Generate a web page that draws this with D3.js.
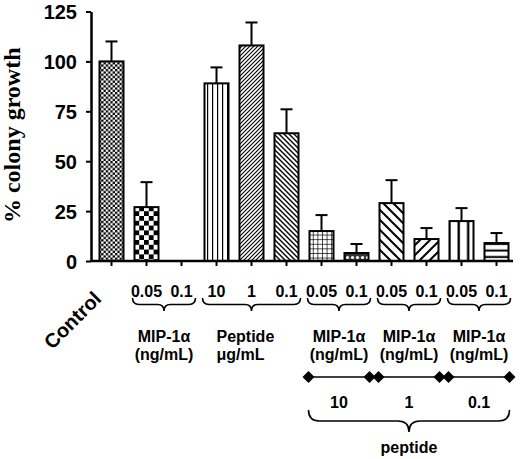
<!DOCTYPE html>
<html><head><meta charset="utf-8">
<script src="https://cdn.jsdelivr.net/npm/d3@7"></script>
<style>
html,body{margin:0;padding:0;background:#fff;}
text{font-family:"Liberation Sans",Arial,sans-serif;font-weight:bold;fill:#000;}
</style></head>
<body><div id="chart"></div>
<script>
// ---- data ----
const categories = ["Control","MIP 0.05","MIP 0.1","Pep 10","Pep 1","Pep 0.1",
  "Pep10+MIP 0.05","Pep10+MIP 0.1","Pep1+MIP 0.05","Pep1+MIP 0.1","Pep0.1+MIP 0.05","Pep0.1+MIP 0.1"];
const means = [100, 27, 0, 89, 108, 64, 15, 4, 29, 11, 20, 9];
const errors = [10, 12.5, 0, 8, 11.5, 12, 8, 4.5, 11.5, 5.5, 6.5, 5];
const tickLabels = ["", "0.05", "0.1", "10", "1", "0.1", "0.05", "0.1", "0.05", "0.1", "0.05", "0.1"];
const yTicks = [0, 25, 50, 75, 100, 125];
const groupRanges = [[1,2],[3,5],[6,7],[8,9],[10,11]];
const groupLabels = [["MIP-1α","(ng/mL)"],["Peptide","μg/mL"],["MIP-1α","(ng/mL)"],["MIP-1α","(ng/mL)"],["MIP-1α","(ng/mL)"]];
const peptideGroups = [2,3,4];
const peptideDoses = ["10","1","0.1"];
const yTitle = "% colony growth";

// ---- styles ----
const fills = ["pFineCheck","pCheck",null,"pVert","pDiagFine","pBackFine","pGrid","pDots","pBackWide","pDiagWide","pVertWide","pHoriz"];

const W = 520, H = 459;
const svg = d3.select("#chart").append("svg").attr("width", W).attr("height", H);
const defs = svg.append("defs");
function pat(id, w, h){ return defs.append("pattern").attr("id", id).attr("patternUnits","userSpaceOnUse").attr("width", w).attr("height", h); }
let p;
p = pat("pFineCheck", 4.6, 4.6); p.append("rect").attr("width",4.6).attr("height",4.6).attr("fill","#fff");
p.append("rect").attr("width",2.3).attr("height",2.3).attr("fill","#000");
p.append("rect").attr("x",2.3).attr("y",2.3).attr("width",2.3).attr("height",2.3).attr("fill","#000");
p = pat("pCheck", 9.6, 9.6); p.append("rect").attr("width",9.6).attr("height",9.6).attr("fill","#fff");
p.append("rect").attr("width",4.8).attr("height",4.8).attr("fill","#000");
p.append("rect").attr("x",4.8).attr("y",4.8).attr("width",4.8).attr("height",4.8).attr("fill","#000");
p = pat("pVert", 5, 10); p.append("rect").attr("width",5).attr("height",10).attr("fill","#fff");
p.append("rect").attr("x",2).attr("width",1.2).attr("height",10).attr("fill","#000");
p = pat("pDiagFine", 4, 4); p.append("rect").attr("width",4).attr("height",4).attr("fill","#fff");
p.append("path").attr("d","M-1,1 L1,-1 M0,4 L4,0 M3,5 L5,3").attr("stroke","#000").attr("stroke-width",1.1);
p = pat("pBackFine", 5, 5); p.append("rect").attr("width",5).attr("height",5).attr("fill","#fff");
p.append("path").attr("d","M-1,4 L1,6 M0,0 L5,5 M4,-1 L6,1").attr("stroke","#000").attr("stroke-width",1.4);
p = pat("pGrid", 4.6, 4.6); p.append("rect").attr("width",4.6).attr("height",4.6).attr("fill","#fff");
p.append("path").attr("d","M0,0 H4.6 M0,0 V4.6").attr("stroke","#000").attr("stroke-width",1.4);
p = pat("pDots", 5, 5); p.append("rect").attr("width",5).attr("height",5).attr("fill","#333");
p.append("circle").attr("cx",2.5).attr("cy",2.5).attr("r",1.6).attr("fill","#fff");
p = pat("pBackWide", 10, 10); p.append("rect").attr("width",10).attr("height",10).attr("fill","#fff");
p.append("path").attr("d","M-2,8 L2,12 M0,0 L10,10 M8,-2 L12,2").attr("stroke","#000").attr("stroke-width",2);
p = pat("pDiagWide", 10, 10); p.append("rect").attr("width",10).attr("height",10).attr("fill","#fff");
p.append("path").attr("d","M-2,2 L2,-2 M0,10 L10,0 M8,12 L12,8").attr("stroke","#000").attr("stroke-width",2);
p = pat("pVertWide", 9.5, 10); p.append("rect").attr("width",9.5).attr("height",10).attr("fill","#fff");
p.append("rect").attr("x",1.5).attr("width",2.4).attr("height",10).attr("fill","#000");
p = pat("pHoriz", 10, 6.5); p.append("rect").attr("width",10).attr("height",6.5).attr("fill","#fff");
p.append("rect").attr("y",2.5).attr("width",10).attr("height",2).attr("fill","#000");

// ---- scales ----
const y = d3.scaleLinear().domain([0,125]).range([261, 11.5]);
const x = d3.scaleBand().domain(d3.range(categories.length)).range([94,514]).paddingInner(0.314).paddingOuter(0.157);
const cx = i => x(i) + x.bandwidth()/2;
const axisX = 91;

// bars
const data = means.map((m,i)=>({i, m, e: errors[i]})).filter(d => d.m > 0);
svg.append("g").selectAll("g").data(data).join("g").each(function(d){
  const g = d3.select(this);
  g.append("line").attr("x1",cx(d.i)).attr("x2",cx(d.i)).attr("y1",y(d.m)).attr("y2",y(d.m+d.e)).attr("stroke","#000").attr("stroke-width",2);
  g.append("line").attr("x1",cx(d.i)-6).attr("x2",cx(d.i)+6).attr("y1",y(d.m+d.e)).attr("y2",y(d.m+d.e)).attr("stroke","#000").attr("stroke-width",2);
});
svg.append("g").selectAll("rect").data(data).join("rect")
  .attr("x", d => x(d.i)).attr("y", d => y(d.m))
  .attr("width", x.bandwidth()).attr("height", d => y(0) - y(d.m))
  .attr("fill", d => `url(#${fills[d.i]})`).attr("stroke","#000").attr("stroke-width",2);

// x axis
const xa = svg.append("g").attr("transform",`translate(0,${y(0)})`)
  .call(d3.axisBottom(x).tickSize(5).tickSizeOuter(0).tickFormat(i => tickLabels[i]));
xa.select(".domain").remove();
xa.selectAll(".tick line").attr("stroke","#000").attr("stroke-width",2);
xa.selectAll(".tick text").attr("y",25).attr("font-size",16).attr("font-family",null);
svg.append("line").attr("x1",axisX).attr("x2",513).attr("y1",y(0)).attr("y2",y(0)).attr("stroke","#000").attr("stroke-width",2.5);

// y axis
const ya = svg.append("g").attr("transform",`translate(${axisX},0)`)
  .call(d3.axisLeft(y).tickValues(yTicks).tickSize(5).tickSizeOuter(0).tickPadding(9));
ya.select(".domain").attr("stroke-width",2.5);
ya.selectAll(".tick line").attr("stroke-width",2);
ya.selectAll(".tick text").attr("font-size",20).attr("dy","0.35em").attr("font-family",null);

svg.append("text").attr("transform",`translate(20,${(y(0)+y(125))/2 - 1}) rotate(-90)`)
  .attr("text-anchor","middle").style("font-family","'Liberation Serif','Times New Roman',serif")
  .attr("font-size",24).text(yTitle);

// Control label
svg.append("text").attr("transform",`translate(${cx(0)-9},300) rotate(-45)`).attr("text-anchor","end")
  .attr("font-size",20).text(categories[0]);

// braces
function brace(x0, x1, yy, h){
  const mid = (x0+x1)/2, r = h/2;
  return `M${x0},${yy} Q${x0},${yy+r} ${x0+r},${yy+r} L${mid-r},${yy+r} Q${mid},${yy+r} ${mid},${yy+h} Q${mid},${yy+r} ${mid+r},${yy+r} L${x1-r},${yy+r} Q${x1},${yy+r} ${x1},${yy}`;
}
groupRanges.forEach((gr, k) => {
  const a = cx(gr[0]) - 14, b = cx(gr[1]) + 14;
  svg.append("path").attr("d", brace(a, b, 298, 13)).attr("fill","none").attr("stroke","#000").attr("stroke-width",1.6);
  const isPep = k === 1;
  const tx = isPep ? cx(gr[0]) : (cx(gr[0]) + cx(gr[1]))/2;
  groupLabels[k].forEach((t, j) => {
    svg.append("text").attr("x", tx).attr("y", 342 + j*18).attr("text-anchor", isPep ? "start" : "middle")
      .attr("font-size",16).text(t);
  });
});

// diamond lines
peptideGroups.forEach((gk, k) => {
  const gr = groupRanges[gk];
  const a = cx(gr[0]) - 13, b = cx(gr[1]) + 13;
  svg.append("line").attr("x1",a).attr("x2",b).attr("y1",377).attr("y2",377).attr("stroke","#000").attr("stroke-width",1.6);
  [a,b].forEach(px => svg.append("path").attr("d", d3.symbol(d3.symbolSquare, 72)())
    .attr("transform",`translate(${px},377) rotate(45)`).attr("fill","#000"));
  svg.append("text").attr("x",(a+b)/2).attr("y",408).attr("text-anchor","middle").attr("font-size",16).text(peptideDoses[k]);
});
const bigA = cx(groupRanges[peptideGroups[0]][0]) - 13;
const bigB = cx(groupRanges[peptideGroups[2]][1]) + 13;
svg.append("path").attr("d", brace(bigA, bigB, 410, 22)).attr("fill","none").attr("stroke","#000").attr("stroke-width",1.6);
svg.append("text").attr("x",(bigA+bigB)/2).attr("y",453).attr("text-anchor","middle").attr("font-size",16).text("peptide");
</script></body></html>
